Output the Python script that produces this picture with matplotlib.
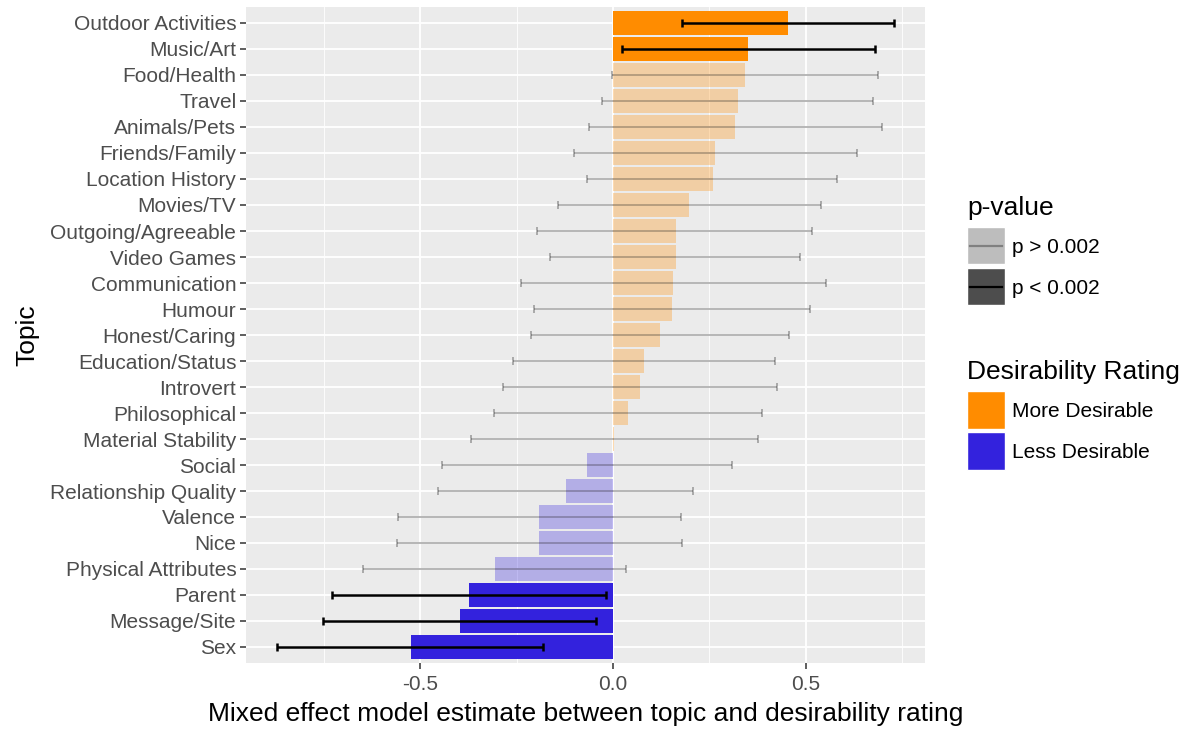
import numpy as np
import matplotlib
matplotlib.use('Agg')
from matplotlib import pyplot as plt
from matplotlib.patches import Rectangle
from matplotlib.lines import Line2D

plt.rcParams['font.family'] = ['Liberation Sans', 'DejaVu Sans']

## DATA
topics = ['Outdoor Activities', 'Music/Art', 'Food/Health', 'Travel', 'Animals/Pets',
          'Friends/Family', 'Location History', 'Movies/TV', 'Outgoing/Agreeable',
          'Video Games', 'Communication', 'Humour', 'Honest/Caring', 'Education/Status',
          'Introvert', 'Philosophical', 'Material Stability', 'Social',
          'Relationship Quality', 'Valence', 'Nice', 'Physical Attributes',
          'Parent', 'Message/Site', 'Sex']
estimate = [0.454, 0.351, 0.341, 0.323, 0.317, 0.264, 0.258, 0.198, 0.162,
            0.162, 0.156, 0.153, 0.122, 0.081, 0.071, 0.038, 0.003, -0.067,
            -0.123, -0.191, -0.191, -0.307, -0.373, -0.398, -0.525]
ci_low = [0.178, 0.022, -0.003, -0.030, -0.063, -0.101, -0.067, -0.142, -0.196,
          -0.163, -0.238, -0.205, -0.212, -0.259, -0.285, -0.309, -0.369, -0.444,
          -0.455, -0.557, -0.561, -0.649, -0.729, -0.753, -0.872]
ci_high = [0.729, 0.679, 0.688, 0.674, 0.697, 0.632, 0.582, 0.538, 0.517,
           0.486, 0.552, 0.510, 0.456, 0.421, 0.426, 0.385, 0.377, 0.309,
           0.207, 0.175, 0.178, 0.034, -0.019, -0.045, -0.182]
significant = [True, True] + [False] * 20 + [True, True, True]

ORANGE = '#FF8C00'
BLUE = '#3322DD'
W, H = 1182, 729

def fx(px):
    return px / W

def fy(py):
    return 1 - py / H

fig = plt.figure(figsize=(W / 100, H / 100), dpi=100)
ax = fig.add_axes([fx(246), fy(662.6), fx(925) - fx(246), fy(7.4) - fy(662.6)])
ax.set_facecolor('#EBEBEB')

n = len(topics)
y = np.arange(n)[::-1]
est = np.array(estimate)
lo = np.array(ci_low)
hi = np.array(ci_high)

for i in range(n):
    col = ORANGE if est[i] >= 0 else BLUE
    a = 1.0 if significant[i] else 0.3
    ax.barh(y[i], est[i], height=0.9, color=col, alpha=a, zorder=3, linewidth=0)

for i in range(n):
    if significant[i]:
        c, lw, a = 'black', 1.8, 1.0
    else:
        c, lw, a = 'black', 1.3, 0.3
    ax.errorbar(est[i], y[i], xerr=[[est[i] - lo[i]], [hi[i] - est[i]]], fmt='none',
                ecolor=c, elinewidth=lw, capsize=3, capthick=lw, alpha=a, zorder=4)

ax.set_xlim(-0.952, 0.809)
ax.set_ylim(-0.6, n - 0.4)
ax.set_xticks([-0.5, 0.0, 0.5])
ax.set_xticklabels(['-0.5', '0.0', '0.5'])
ax.set_xticks([-0.75, -0.25, 0.25, 0.75], minor=True)
ax.set_yticks(y)
ax.set_yticklabels(topics)
ax.grid(which='major', color='white', linewidth=1.3, zorder=0)
ax.grid(which='minor', axis='x', color='white', linewidth=0.6, zorder=0)
ax.set_axisbelow(True)
for s in ax.spines.values():
    s.set_visible(False)
ax.tick_params(axis='both', which='major', length=4, width=1.1, color='#333333',
               labelsize=15, labelcolor='#4D4D4D', pad=3)
ax.tick_params(axis='x', which='major', pad=5)
ax.tick_params(axis='both', which='minor', length=0)
ax.set_xlabel('Mixed effect model estimate between topic and desirability rating',
              fontsize=19, labelpad=6)
ax.set_ylabel('Topic', fontsize=19, labelpad=8)

# legend p-value
fig.text(fx(967), fy(208), 'p-value', fontsize=19, va='center', ha='left')
keys = [('#BDBDBD', '#808080', 'p > 0.002', 227), ('#4D4D4D', 'black', 'p < 0.002', 268)]
for bg, lc, lab, top in keys:
    fig.add_artist(Rectangle((fx(967), fy(top + 37)), fx(38), fy(0) - fy(37),
                             transform=fig.transFigure, facecolor=bg, edgecolor='white', lw=1))
    fig.add_artist(Line2D([fx(970), fx(1002)], [fy(top + 18.5)] * 2,
                          transform=fig.transFigure, color=lc, lw=1.6))
    fig.text(fx(1012), fy(top + 21), lab, fontsize=15, va='center', ha='left')

# legend desirability
fig.text(fx(967), fy(372), 'Desirability Rating', fontsize=19, va='center', ha='left')
keys2 = [(ORANGE, 'More Desirable', 391), (BLUE, 'Less Desirable', 432)]
for col, lab, top in keys2:
    fig.add_artist(Rectangle((fx(967), fy(top + 38)), fx(38), fy(0) - fy(38),
                             transform=fig.transFigure, facecolor=col, edgecolor='white', lw=1))
    fig.text(fx(1012), fy(top + 20.5), lab, fontsize=15, va='center', ha='left')

plt.savefig('out.png', dpi=100)
